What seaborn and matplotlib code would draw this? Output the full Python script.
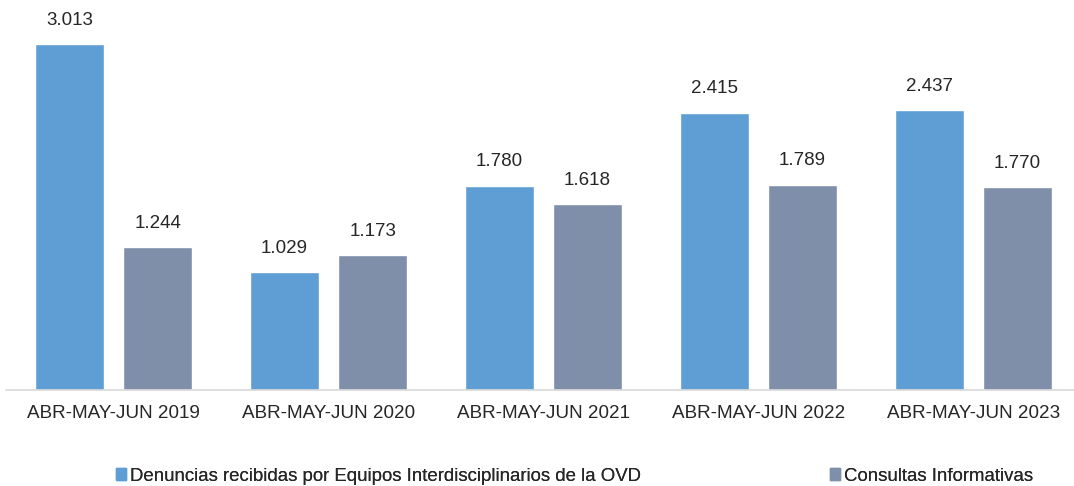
import pandas as pd
import matplotlib
matplotlib.use("Agg")
import matplotlib.pyplot as plt
import seaborn as sns
from matplotlib.patches import Patch

# Datos
periodos = ["ABR-MAY-JUN 2019", "ABR-MAY-JUN 2020", "ABR-MAY-JUN 2021",
            "ABR-MAY-JUN 2022", "ABR-MAY-JUN 2023"]
denuncias = [3013, 1029, 1780, 2415, 2437]
consultas = [1244, 1173, 1618, 1789, 1770]
series = ["Denuncias recibidas por Equipos Interdisciplinarios de la OVD",
          "Consultas Informativas"]
colores = ["#5F9ED4", "#7F8FAA"]

df = pd.DataFrame({
    "periodo": periodos * 2,
    "valor": denuncias + consultas,
    "serie": [series[0]] * len(periodos) + [series[1]] * len(periodos),
})

sns.set_style("white")
plt.rcParams["font.family"] = ["Liberation Sans", "DejaVu Sans"]

fig = plt.figure(figsize=(10.74, 4.86), dpi=100)
ax = fig.add_axes([6 / 1074, 1 - 390 / 486, 1075 / 1074, 390 / 486])

sns.barplot(data=df, x="periodo", y="valor", hue="serie", palette=colores,
            saturation=1, width=0.82, gap=0.22, legend=False, ax=ax)

ax.set_xlim(-0.5, 4.5)
ax.set_ylim(0, 3397)
ax.set_xlabel("")
ax.set_ylabel("")
ax.set_yticks([])
ax.tick_params(axis="x", length=0, labelsize=13.6, pad=11)
for s in ["top", "right", "left"]:
    ax.spines[s].set_visible(False)
ax.spines["bottom"].set_color("#D9D9D9")
ax.spines["bottom"].set_linewidth(1.2)

for cont in ax.containers:
    etiquetas = [f"{v:,.0f}".replace(",", ".") for v in cont.datavalues]
    ax.bar_label(cont, labels=etiquetas, padding=11, fontsize=13.5)

for i, (nombre, color) in enumerate(zip(series, colores)):
    x0 = [116 / 1074, 830 / 1074][i]
    leg = fig.legend(handles=[Patch(color=color, label=nombre)],
                     loc="center left", bbox_to_anchor=(x0, 1 - 476 / 486),
                     frameon=False, fontsize=13.4, handlelength=0.55,
                     handleheight=0.55, handletextpad=0.2, borderaxespad=0,
                     borderpad=0)
    fig.add_artist(leg)

plt.savefig("out.png", dpi=100)
